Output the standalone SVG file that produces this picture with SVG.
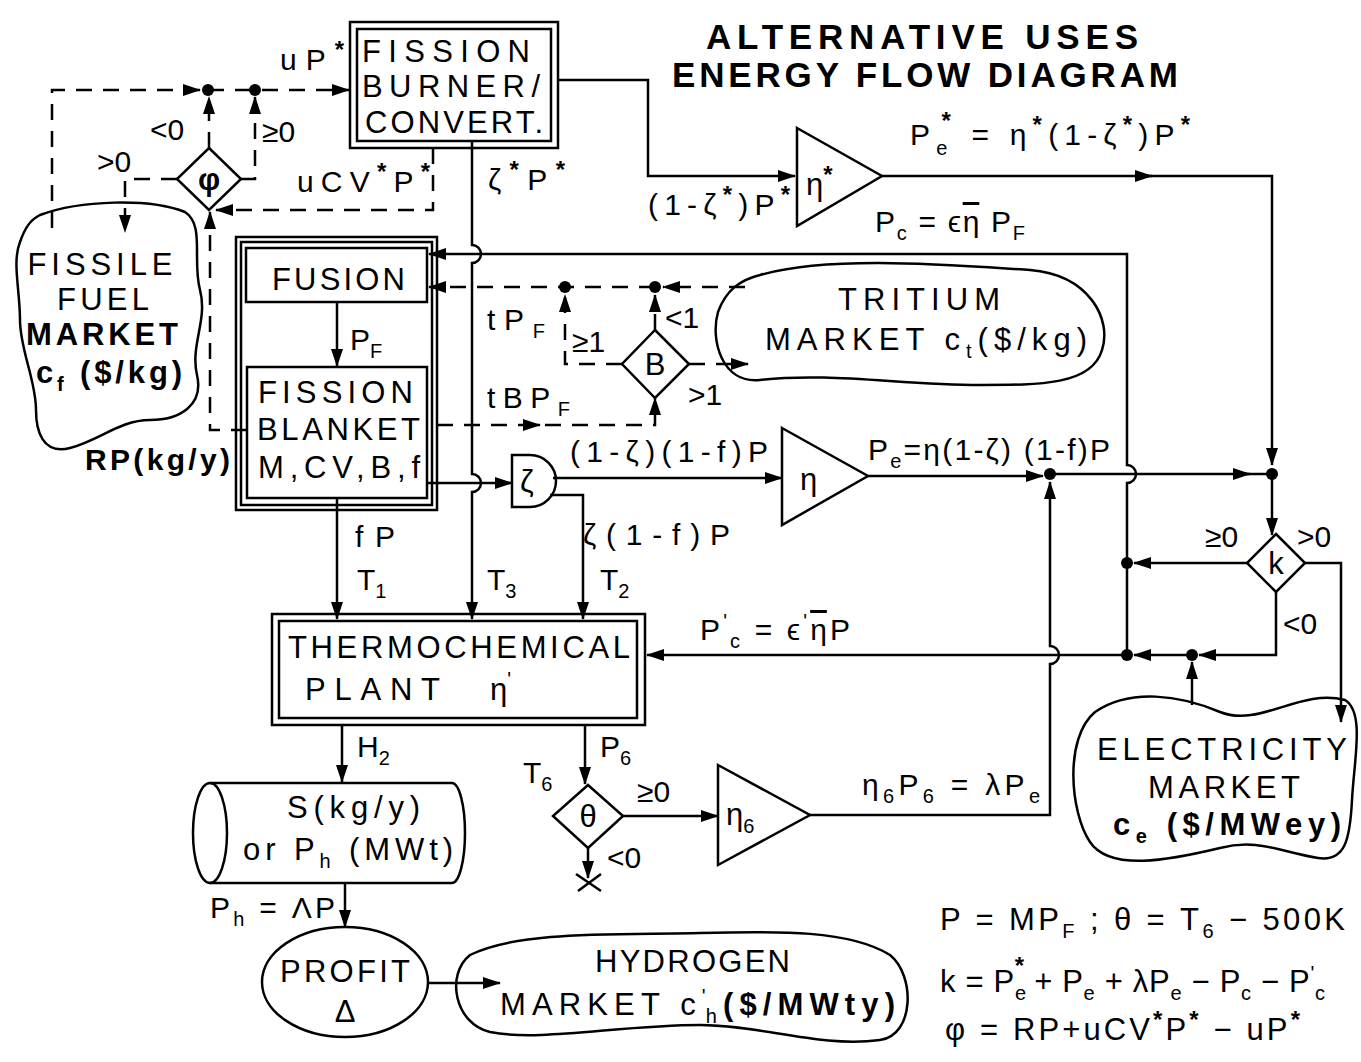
<svg xmlns="http://www.w3.org/2000/svg" width="1361" height="1062" viewBox="0 0 1361 1062">
<defs>
<marker id="ah" markerUnits="userSpaceOnUse" markerWidth="18" markerHeight="12" refX="17" refY="6" orient="auto"><path d="M0,0 L18,6 L0,12 z" fill="#000"/></marker>
</defs>
<style>
.ln{fill:none;stroke:#000;stroke-width:2.5}
.ds{stroke-dasharray:16 11}
.sh{fill:none;stroke:#000;stroke-width:2.5}
.dot{fill:#000}
text{font-family:"Liberation Sans",Arial,sans-serif;fill:#000}
.tt{font-size:35px;font-weight:bold}
.n{font-size:31px}
.l{font-size:30px}
.s{font-size:20px}
.st{font-size:24px;font-weight:bold}
.c{text-anchor:middle}
.b{font-weight:bold}
.ov{text-decoration:overline}
</style>
<rect width="1361" height="1062" fill="#fff"/>

<g id="title">
<text class="tt" x="706" y="49" textLength="432" lengthAdjust="spacing">ALTERNATIVE USES</text>
<text class="tt" x="672" y="87" textLength="506" lengthAdjust="spacing">ENERGY FLOW DIAGRAM</text>
</g>

<g id="connectors">
<path class="ln" d="M558,80 H648 V176 H795" marker-end="url(#ah)"/>
<path class="ln" d="M882,176 H1152" marker-end="url(#ah)"/>
<path class="ln" d="M1140,176 H1272 V465" marker-end="url(#ah)"/>
<path class="ln" d="M1272,474 V535" marker-end="url(#ah)"/>
<path class="ln" d="M472,141 V245 A9,9 0 0 1 472,263 V474 A9,9 0 0 1 472,492 V619" marker-end="url(#ah)"/>
<path class="ln" d="M1127,655 V483 A9,9 0 0 0 1127,465 V254 H429" marker-end="url(#ah)"/>
<path class="ln" d="M337,302 V366" marker-end="url(#ah)"/>
<path class="ln" d="M427,483 H512" marker-end="url(#ah)"/>
<path class="ln" d="M553,478 H782" marker-end="url(#ah)"/>
<path class="ln" d="M550,495 H583 V619" marker-end="url(#ah)"/>
<path class="ln" d="M868,476 H1043" marker-end="url(#ah)"/>
<path class="ln" d="M1050,474 H1250" marker-end="url(#ah)"/>
<path class="ln" d="M1245,474 H1272"/>
<path class="ln" d="M810,815 H1050 V664 A9,9 0 0 0 1050,646 V482" marker-end="url(#ah)"/>
<path class="ln" d="M1247,563 H1134" marker-end="url(#ah)"/>
<path class="ln" d="M1305,563 H1341 V722" marker-end="url(#ah)"/>
<path class="ln" d="M1276,592 V655 H1199" marker-end="url(#ah)"/>
<path class="ln" d="M1192,655 H1134" marker-end="url(#ah)"/>
<path class="ln" d="M1127,655 H647" marker-end="url(#ah)"/>
<path class="ln" d="M1192,705 V662" marker-end="url(#ah)"/>
<path class="ln" d="M337,498 V619" marker-end="url(#ah)"/>
<path class="ln" d="M342,725 V782" marker-end="url(#ah)"/>
<path class="ln" d="M585,725 V784" marker-end="url(#ah)"/>
<path class="ln" d="M623,816 H718" marker-end="url(#ah)"/>
<path class="ln" d="M588,848 V878" marker-end="url(#ah)"/>
<path class="ln" d="M576,874 L601,891 M578,891 L601,874"/>
<path class="ln" d="M345,884 V927" marker-end="url(#ah)"/>
<path class="ln" d="M427,983 H500" marker-end="url(#ah)"/>
<path class="ln ds" d="M52,228 V90 H200" marker-end="url(#ah)"/>
<path class="ln ds" d="M208,90 H349" marker-end="url(#ah)"/>
<path class="ln ds" d="M209,148 V97" marker-end="url(#ah)"/>
<path class="ln ds" d="M241,179 H255 V97" marker-end="url(#ah)"/>
<path class="ln ds" d="M177,179 H125 V232" marker-end="url(#ah)"/>
<path class="ln ds" d="M433,148 V210 H216" marker-end="url(#ah)"/>
<path class="ln ds" d="M247,430 H210 V212" marker-end="url(#ah)"/>
<path class="ln ds" d="M745,287 H663" marker-end="url(#ah)"/>
<path class="ln ds" d="M655,287 H429" marker-end="url(#ah)"/>
<path class="ln ds" d="M655,330 V295" marker-end="url(#ah)"/>
<path class="ln ds" d="M622,364 H565 V295" marker-end="url(#ah)"/>
<path class="ln ds" d="M689,364 H748" marker-end="url(#ah)"/>
<path class="ln ds" d="M437,425 H655 V398" marker-end="url(#ah)"/>
<path class="ln" d="M525,425 H540" marker-end="url(#ah)"/>
<circle class="dot" cx="208" cy="90" r="6"/>
<circle class="dot" cx="255" cy="90" r="6"/>
<circle class="dot" cx="565" cy="287" r="6"/>
<circle class="dot" cx="655" cy="287" r="6"/>
<circle class="dot" cx="1050" cy="474" r="6"/>
<circle class="dot" cx="1272" cy="474" r="6"/>
<circle class="dot" cx="1127" cy="563" r="6"/>
<circle class="dot" cx="1127" cy="655" r="6"/>
<circle class="dot" cx="1192" cy="655" r="6"/>
</g>

<g id="fission-burner">
<rect class="sh" x="350" y="22" width="208" height="126"/>
<rect class="sh" x="357" y="29" width="194" height="112"/>
<text class="n" x="362" y="62" textLength="168" lengthAdjust="spacing">FISSION</text>
<text class="n" x="362" y="97" textLength="178" lengthAdjust="spacing">BURNER/</text>
<text class="n" x="365" y="133" textLength="178" lengthAdjust="spacing">CONVERT.</text>
</g>

<g id="phi-decision">
<polygon class="sh" points="209,148 241,179 209,210 177,179"/>
<text class="n b c" x="209" y="190">φ</text>
</g>

<g id="fissile-market">
<path class="sh" d="M40,215 C80,200 150,198 185,212 C205,225 192,260 200,290 C208,320 190,345 197,375 C204,405 180,420 150,420 C120,420 100,440 70,448 C42,455 36,430 36,410 C36,380 20,350 20,320 C20,290 12,262 20,242 C25,228 30,220 40,215 Z"/>
<text class="n c" x="100" y="275" textLength="145" lengthAdjust="spacing">FISSILE</text>
<text class="n c" x="103" y="310" textLength="92" lengthAdjust="spacing">FUEL</text>
<text class="n b c" x="102" y="345" textLength="152" lengthAdjust="spacing">MARKET</text>
<text class="n b" x="36" y="383" textLength="146" lengthAdjust="spacing">c<tspan class="s" dy="8">f</tspan><tspan dy="-8"> ($/kg)</tspan></text>
</g>

<g id="fusion-blanket">
<rect class="sh" x="236" y="237" width="201" height="273"/>
<rect class="sh" x="241" y="242" width="191" height="263"/>
<rect class="sh" x="246" y="248" width="181" height="54"/>
<text class="n" x="272" y="290" textLength="133" lengthAdjust="spacing">FUSION</text>
<rect class="sh" x="247" y="367" width="180" height="131"/>
<text class="n" x="258" y="403" textLength="155" lengthAdjust="spacing">FISSION</text>
<text class="n" x="257" y="440" textLength="163" lengthAdjust="spacing">BLANKET</text>
<text class="n" x="258" y="478" textLength="162" lengthAdjust="spacing">M,CV,B,f</text>
</g>

<g id="eta-star">
<polygon class="sh" points="797,128 882,176 797,226"/>
<text class="n" x="806" y="195">η<tspan class="st" dy="-12">*</tspan></text>
</g>

<g id="zeta-split">
<path class="sh" d="M512,455 H530 A26,26 0 0 1 530,507 H512 Z"/>
<text class="n" x="520" y="492">ζ</text>
</g>

<g id="eta">
<polygon class="sh" points="782,428 868,476 782,525"/>
<text class="n" x="800" y="490">η</text>
</g>

<g id="b-decision">
<polygon class="sh" points="655,330 689,364 655,398 622,364"/>
<text class="n c" x="655" y="375">B</text>
</g>

<g id="tritium-market">
<path class="sh" d="M760,275 C830,255 950,265 1030,270 C1090,275 1112,320 1102,350 C1092,385 1040,385 980,385 C900,385 830,372 760,380 C722,384 710,340 718,312 C726,290 740,280 760,275 Z"/>
<text class="n" x="838" y="310" textLength="162" lengthAdjust="spacing">TRITIUM</text>
<text class="n" x="765" y="350" textLength="322" lengthAdjust="spacing">MARKET c<tspan class="s" dy="8">t</tspan><tspan dy="-8">($/kg)</tspan></text>
</g>

<g id="k-decision">
<polygon class="sh" points="1276,534 1305,563 1276,592 1247,563"/>
<text class="n c" x="1276" y="574">k</text>
</g>

<g id="thermochemical-plant">
<rect class="sh" x="272" y="614" width="373" height="111"/>
<rect class="sh" x="279" y="621" width="358" height="97"/>
<text class="n" x="288" y="658" textLength="342" lengthAdjust="spacing">THERMOCHEMICAL</text>
<text class="n" x="305" y="700" textLength="135" lengthAdjust="spacing">PLANT</text>
<text class="n" x="490" y="700">η<tspan class="s" dy="-14">'</tspan></text>
</g>

<g id="electricity-market">
<path class="sh" d="M1095,712 C1130,688 1180,695 1220,712 C1260,728 1300,688 1345,700 C1365,712 1354,760 1352,800 C1350,840 1345,862 1318,858 C1280,852 1258,838 1220,848 C1170,860 1110,872 1090,842 C1070,812 1064,738 1095,712 Z"/>
<text class="n" x="1097" y="760" textLength="250" lengthAdjust="spacing">ELECTRICITY</text>
<text class="n" x="1148" y="798" textLength="152" lengthAdjust="spacing">MARKET</text>
<text class="n b" x="1113" y="835" textLength="228" lengthAdjust="spacing">c<tspan class="s" dy="8">e</tspan><tspan dy="-8"> ($/MWey)</tspan></text>
</g>

<g id="storage">
<ellipse class="sh" cx="210" cy="833" rx="17" ry="50"/>
<path class="sh" d="M210,783 H452 A13,50 0 0 1 452,883 H210"/>
<text class="n" x="287" y="818" textLength="133" lengthAdjust="spacing">S(kg/y)</text>
<text class="n" x="243" y="860" textLength="210" lengthAdjust="spacing">or  P<tspan class="s" dy="8">h</tspan><tspan dy="-8"> (MWt)</tspan></text>
</g>

<g id="theta-decision">
<polygon class="sh" points="588,785 623,816 588,848 553,816"/>
<text class="n c" x="588" y="827">θ</text>
</g>

<g id="eta6">
<polygon class="sh" points="718,765 810,815 718,865"/>
<text class="n" x="726" y="825">η<tspan class="s" dy="8">6</tspan></text>
</g>

<g id="profit">
<ellipse class="sh" cx="345" cy="982" rx="83" ry="55"/>
<text class="n" x="280" y="982" textLength="130" lengthAdjust="spacing">PROFIT</text>
<text class="n c" x="345" y="1022">Δ</text>
</g>

<g id="hydrogen-market">
<path class="sh" d="M470,955 C520,930 620,935 700,933 C780,931 850,930 890,955 C915,975 915,1035 880,1040 C820,1048 760,1025 700,1025 C620,1025 540,1042 490,1032 C455,1024 445,975 470,955 Z"/>
<text class="n" x="595" y="972" textLength="195" lengthAdjust="spacing">HYDROGEN</text>
<text class="n" x="500" y="1015" textLength="395" lengthAdjust="spacing">MARKET c<tspan class="s" dy="-12">'</tspan><tspan class="s" dx="-6" dy="20">h</tspan><tspan dy="-8" class="b">($/MWty)</tspan></text>
</g>

<g id="labels">
<text class="l" x="280" y="70" textLength="64" lengthAdjust="spacing">uP<tspan class="st" dy="-12">*</tspan></text>
<text class="l" x="150" y="140">&lt;0</text>
<text class="l" x="97" y="172">&gt;0</text>
<text class="l" x="262" y="142">≥0</text>
<text class="l" x="297" y="192" textLength="133" lengthAdjust="spacing">uCV<tspan class="st" dy="-12">*</tspan><tspan dy="12">P</tspan><tspan class="st" dy="-12">*</tspan></text>
<text class="l" x="488" y="190" textLength="77" lengthAdjust="spacing">ζ<tspan class="st" dy="-12">*</tspan><tspan dy="12">P</tspan><tspan class="st" dy="-12">*</tspan></text>
<text class="l" x="648" y="215" textLength="142" lengthAdjust="spacing">(1-ζ<tspan class="st" dy="-12">*</tspan><tspan dy="12">)P</tspan><tspan class="st" dy="-12">*</tspan></text>
<text class="l" x="910" y="145" textLength="280" lengthAdjust="spacing">P<tspan class="s" dy="10">e</tspan><tspan class="st" dx="-12" dy="-26">*</tspan><tspan dy="16"> = η</tspan><tspan class="st" dy="-12">*</tspan><tspan dy="12">(1-ζ</tspan><tspan class="st" dy="-12">*</tspan><tspan dy="12">)P</tspan><tspan class="st" dy="-12">*</tspan></text>
<text class="l" x="875" y="232" textLength="150" lengthAdjust="spacing">P<tspan class="s" dy="8">c</tspan><tspan dy="-8"> = ϵ</tspan><tspan class="ov">η</tspan><tspan> P</tspan><tspan class="s" dy="8">F</tspan></text>
<text class="l" x="350" y="350">P<tspan class="s" dy="8">F</tspan></text>
<text class="l b" x="85" y="470" textLength="145" lengthAdjust="spacing">RP(kg/y)</text>
<text class="l" x="487" y="330" textLength="58" lengthAdjust="spacing">tP<tspan class="s" dy="8">F</tspan></text>
<text class="l" x="572" y="352">≥1</text>
<text class="l" x="665" y="328">&lt;1</text>
<text class="l" x="688" y="405">&gt;1</text>
<text class="l" x="487" y="408" textLength="83" lengthAdjust="spacing">tBP<tspan class="s" dy="8">F</tspan></text>
<text class="l" x="570" y="462" textLength="198" lengthAdjust="spacing">(1-ζ)(1-f)P</text>
<text class="l" x="868" y="460" textLength="242" lengthAdjust="spacing">P<tspan class="s" dy="8">e</tspan><tspan dy="-8">=η(1-ζ) (1-f)P</tspan></text>
<text class="l" x="1205" y="547">≥0</text>
<text class="l" x="1297" y="547">&gt;0</text>
<text class="l" x="1283" y="634">&lt;0</text>
<text class="l" x="355" y="547" textLength="40" lengthAdjust="spacing">fP</text>
<text class="l" x="357" y="590">T<tspan class="s" dy="8">1</tspan></text>
<text class="l" x="487" y="590">T<tspan class="s" dy="8">3</tspan></text>
<text class="l" x="583" y="545" textLength="147" lengthAdjust="spacing">ζ(1-f)P</text>
<text class="l" x="600" y="590">T<tspan class="s" dy="8">2</tspan></text>
<text class="l" x="700" y="640" textLength="150" lengthAdjust="spacing">P<tspan class="s" dy="-12">'</tspan><tspan class="s" dy="20">c</tspan><tspan dy="-8"> = ϵ</tspan><tspan class="s" dy="-12">'</tspan><tspan class="ov" dy="12">η</tspan><tspan>P</tspan></text>
<text class="l" x="357" y="757">H<tspan class="s" dy="8">2</tspan></text>
<text class="l" x="600" y="757">P<tspan class="s" dy="8">6</tspan></text>
<text class="l" x="523" y="783">T<tspan class="s" dy="8">6</tspan></text>
<text class="l" x="637" y="802">≥0</text>
<text class="l" x="607" y="868">&lt;0</text>
<text class="l" x="862" y="795" textLength="178" lengthAdjust="spacing">η<tspan class="s" dy="8">6</tspan><tspan dy="-8">P</tspan><tspan class="s" dy="8">6</tspan><tspan dy="-8"> = λP</tspan><tspan class="s" dy="8">e</tspan></text>
<text class="l" x="210" y="918" textLength="125" lengthAdjust="spacing">P<tspan class="s" dy="8">h</tspan><tspan dy="-8"> = ΛP</tspan></text>
</g>

<g id="equations">
<text class="n" x="940" y="930" textLength="405" lengthAdjust="spacing">P = MP<tspan class="s" dy="8">F</tspan><tspan dy="-8"> ; θ = T</tspan><tspan class="s" dy="8">6</tspan><tspan dy="-8"> − 500K</tspan></text>
<text class="n" x="940" y="992" textLength="385" lengthAdjust="spacing">k = P<tspan class="s" dy="8">e</tspan><tspan class="st" dx="-12" dy="-26">*</tspan><tspan dy="18"> + P</tspan><tspan class="s" dy="8">e</tspan><tspan dy="-8"> + λP</tspan><tspan class="s" dy="8">e</tspan><tspan dy="-8"> − P</tspan><tspan class="s" dy="8">c</tspan><tspan dy="-8"> − P</tspan><tspan class="s" dy="-12">'</tspan><tspan class="s" dy="20">c</tspan></text>
<text class="n" x="945" y="1040" textLength="355" lengthAdjust="spacing">φ = RP+uCV<tspan class="st" dy="-12">*</tspan><tspan dy="12">P</tspan><tspan class="st" dy="-12">*</tspan><tspan dy="12"> − uP</tspan><tspan class="st" dy="-12">*</tspan></text>
</g>
</svg>
